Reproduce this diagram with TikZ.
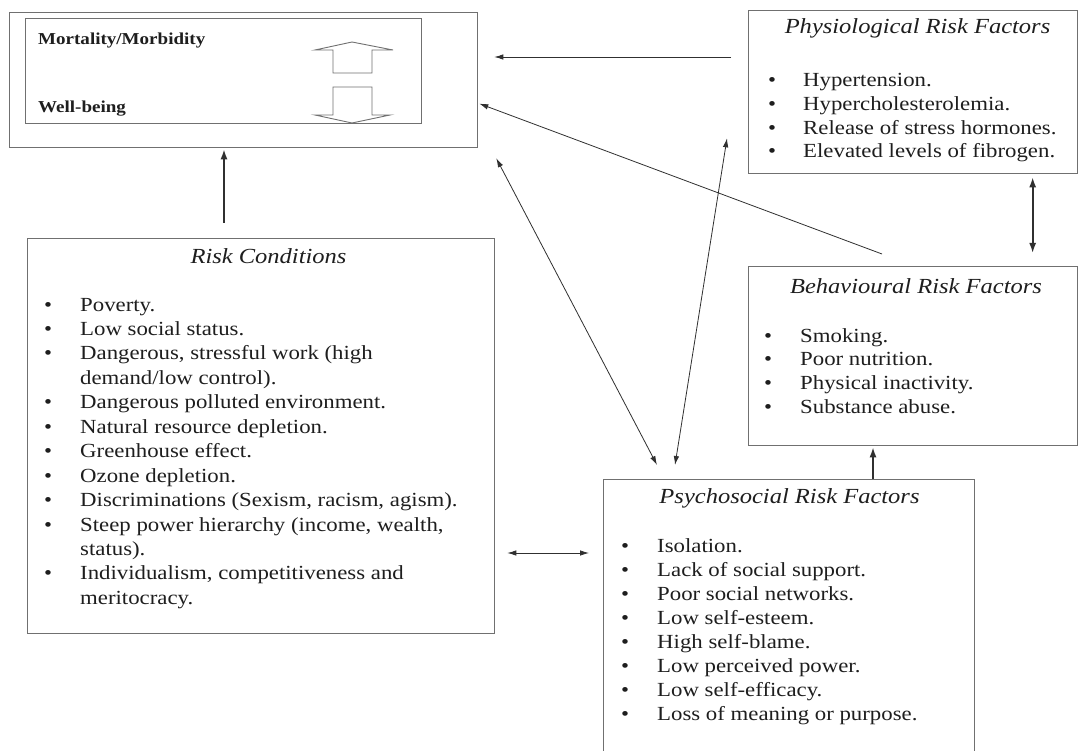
\documentclass[tikz,border=0pt]{standalone}
\usepackage{fontspec}
\setmainfont{Liberation Serif}[FakeStretch=1.14]
\usetikzlibrary{arrows.meta,calc}
\definecolor{boxgray}{HTML}{707070}
\definecolor{ink}{HTML}{1E1E1E}
\definecolor{linegray}{HTML}{303030}
\newcommand\bodyf{\fontsize{20}{24}\selectfont}
\newcommand\titf{\fontsize{21.5}{26}\selectfont\itshape}
\newcommand\boldf{\fontsize{16.7}{20}\selectfont\bfseries}
\begin{document}
\begin{tikzpicture}[x=1pt,y=-1pt,
  box/.style={draw=boxgray, line width=1.3pt, inner sep=0pt, anchor=north west},
  txt/.style={anchor=base west, inner sep=0pt, text=ink, font=\bodyf},
  ttl/.style={anchor=base, inner sep=0pt, text=ink, font=\titf},
  bld/.style={anchor=base west, inner sep=0pt, text=ink, font=\boldf},
  blk/.style={draw=boxgray, line width=0.9pt, fill=white, line join=miter},
  arr/.style={draw=linegray, line width=0.8pt, -{Latex[length=9pt,width=5.5pt]}},
  darr/.style={draw=linegray, line width=0.8pt, {Latex[length=9pt,width=5.5pt]}-{Latex[length=9pt,width=5.5pt]}},
  tarr/.style={draw=linegray, line width=1.7pt, -{Latex[length=10pt,width=7pt]}},
  tdarr/.style={draw=linegray, line width=1.7pt, {Latex[length=10pt,width=7pt]}-{Latex[length=10pt,width=7pt]}}
]
\useasboundingbox[fill=white] (0,0) rectangle (1083,751);

% ---------- boxes ----------
\node[box, minimum width=468pt, minimum height=135pt] (top) at (9,12) {};
\node[box, minimum width=396pt, minimum height=105pt] (inner) at (25,18) {};
\node[box, minimum width=329pt, minimum height=163pt] (phys) at (748,10) {};
\node[box, minimum width=329pt, minimum height=179pt] (beh) at (748,266) {};
\node[box, minimum width=467pt, minimum height=395pt] (risk) at (27,238) {};
\node[box, minimum width=371pt, minimum height=330pt] (psy) at (603,479) {};

% ---------- top box content ----------
\node[bld] (mort) at (38,45) {Mortality/Morbidity};
\node[bld] (well) at (38,113) {Well-being};
\draw[blk] (315,50) -- (352,42) -- (393,50) -- (372,50) -- (372,73) -- (333,73) -- (333,50) -- cycle;
\draw[blk] (333,87) -- (372,87) -- (372,115) -- (390,115) -- (352,123) -- (315,115) -- (333,115) -- cycle;

% ---------- titles ----------
\node[ttl] (physT) at (917.5,34) {Physiological Risk Factors};
\node[ttl] (behT) at (916,293) {Behavioural Risk Factors};
\node[ttl] (riskT) at (268.5,263) {Risk Conditions};
\node[ttl] (psyT) at (789.5,503) {Psychosocial Risk Factors};

% ---------- lists ----------
\foreach \b/\t [count=\i from 0] in {1/{Hypertension.},1/{Hypercholesterolemia.},1/{Release of stress hormones.},1/{Elevated levels of fibrogen.}}{
  \ifnum\b=1 \node[txt] (phb\i) at (768,{86.7+\i*23.7}) {•};\fi
  \node[txt] (ph\i) at (803,{86.7+\i*23.7}) {\t};
}
\foreach \b/\t [count=\i from 0] in {1/{Smoking.},1/{Poor nutrition.},1/{Physical inactivity.},1/{Substance abuse.}}{
  \ifnum\b=1 \node[txt] (beb\i) at (764,{342+\i*23.7}) {•};\fi
  \node[txt] (be\i) at (800,{342+\i*23.7}) {\t};
}
\foreach \b/\t [count=\i from 0] in {1/{Poverty.},1/{Low social status.},1/{Dangerous, stressful work (high},0/{demand/low control).},1/{Dangerous polluted environment.},1/{Natural resource depletion.},1/{Greenhouse effect.},1/{Ozone depletion.},1/{Discriminations (Sexism, racism, agism).},1/{Steep power hierarchy (income, wealth,},0/{status).},1/{Individualism, competitiveness and},0/{meritocracy.}}{
  \ifnum\b=1 \node[txt] (rcb\i) at (44,{311+\i*24.45}) {•};\fi
  \node[txt] (rc\i) at (80,{311+\i*24.45}) {\t};
}
\foreach \b/\t [count=\i from 0] in {1/{Isolation.},1/{Lack of social support.},1/{Poor social networks.},1/{Low self-esteem.},1/{High self-blame.},1/{Low perceived power.},1/{Low self-efficacy.},1/{Loss of meaning or purpose.}}{
  \ifnum\b=1 \node[txt] (psb\i) at (621,{552+\i*24.1}) {•};\fi
  \node[txt] (ps\i) at (657,{552+\i*24.1}) {\t};
}

% ---------- connector ends ----------
\coordinate (a1s) at ($(risk.north west)+(197,-15)$);
\coordinate (a1e) at ($(top.south west)+(215,1)$);
\coordinate (a2s) at ($(phys.north west)+(-17,47)$);
\coordinate (a2e) at ($(top.north east)+(16,45)$);
\coordinate (a3s) at ($(beh.north west)+(134,-12)$);
\coordinate (a3e) at ($(top.east)+(1,23.5)$);
\coordinate (a4s) at ($(top.south east)+(18,10)$);
\coordinate (a4e) at ($(psy.north west)+(54,-14)$);
\coordinate (a5s) at ($(psy.north west)+(72,-14)$);
\coordinate (a5e) at ($(phys.south west)+(-21,-36)$);
\coordinate (a6s) at ($(phys.south)+(119.5,3)$);
\coordinate (a6e) at ($(beh.north)+(119.5,-13)$);
\coordinate (a7s) at ($(psy.north west)+(270,0)$);
\coordinate (a7e) at ($(beh.south west)+(125,1)$);
\coordinate (a8s) at ($(risk.north east)+(12,315)$);
\coordinate (a8e) at ($(psy.north west)+(-14,74)$);

% ---------- connectors ----------
\draw[tarr] (a1s) -- (a1e);
\draw[arr] (a2s) -- (a2e);
\draw[arr] (a3s) -- (a3e);
\draw[darr] (a4s) -- (a4e);
\draw[darr] (a5s) -- (a5e);
\draw[tdarr] (a6s) -- (a6e);
\draw[tarr] (a7s) -- (a7e);
\draw[darr] (a8s) -- (a8e);
\end{tikzpicture}
\end{document}
